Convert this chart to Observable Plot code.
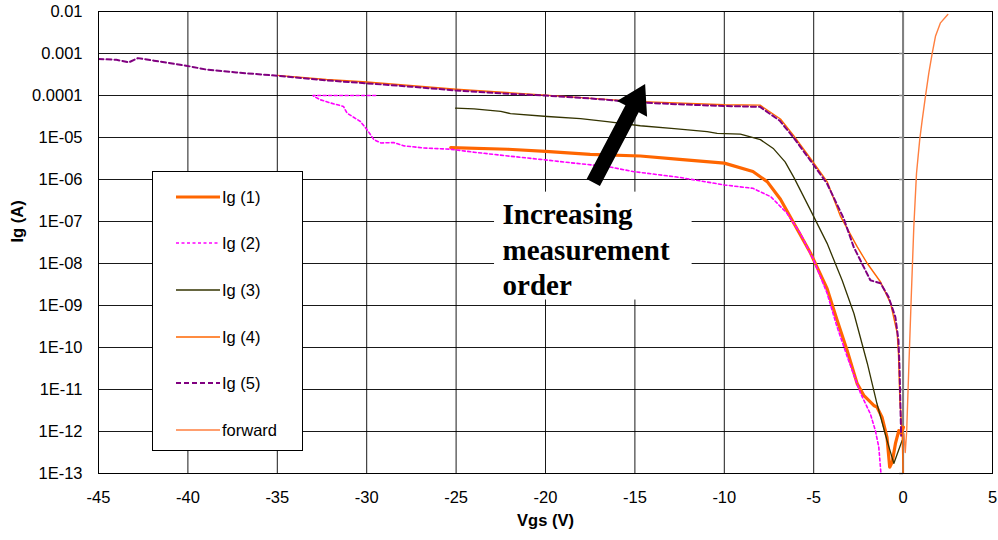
<!DOCTYPE html>
<html><head><meta charset="utf-8">
<script src="https://cdn.jsdelivr.net/npm/d3@7"></script>
<script src="https://cdn.jsdelivr.net/npm/@observablehq/plot@0.6"></script>
<style>
body{margin:0;background:#fff;}
#wrap{position:relative;width:998px;height:540px;font-family:Arial,"Liberation Sans",sans-serif;}
#legend{position:absolute;left:152px;top:171px;width:151px;height:280px;border:1px solid #000;background:#fff;box-sizing:border-box;}
.row{position:absolute;left:0;height:20px;width:150px;}
.row svg{position:absolute;left:22px;top:0;}
.row span{position:absolute;left:69px;top:0;font-size:16.5px;color:#000;line-height:20px;white-space:nowrap;}
</style></head><body><div id="wrap"></div>
<script>
// ---- data (Vgs in V, gate current as log10(A)) ----
const seriesNames = ["Ig (1)", "Ig (2)", "Ig (3)", "Ig (4)", "Ig (5)", "forward"];

const ig1V   = [-25.3,-22.1,-20,-17.5,-14.7,-12.5,-10,-8.4,-7.6,-6.86,-6.11,-5.18,-4.25,-3.69,-3.13,-2.57,-2.2,-1.64,-1.46,-1.18,-0.9,-0.75,-0.61,-0.43,-0.24,-0.11,0.02];
const ig1Log = [-5.24,-5.28,-5.33,-5.40,-5.44,-5.52,-5.61,-5.81,-6.05,-6.47,-7.04,-7.75,-8.6,-9.35,-10.07,-10.86,-11.14,-11.38,-11.42,-11.66,-12.14,-12.85,-12.73,-12.29,-11.98,-12.05,-11.9];

const ig2V   = [-29.5,-33,-32.96,-32.6,-32.0,-31.3,-31.1,-30.35,-29.97,-29.6,-29.2,-28.5,-27.9,-26.8,-25.3,-24.0,-22.1,-20.3,-18.4,-16.55,-15.1,-12.5,-10,-8.4,-7.4,-6.5,-5.75,-5.0,-4.25,-3.7,-3.1,-2.38,-1.83,-1.55,-1.36,-1.2];
const ig2Log = [-4.0,-4.0,-4.02,-4.1,-4.18,-4.26,-4.42,-4.62,-4.82,-5.05,-5.13,-5.12,-5.2,-5.25,-5.28,-5.35,-5.44,-5.52,-5.61,-5.69,-5.81,-5.95,-6.13,-6.21,-6.41,-6.8,-7.28,-7.92,-8.71,-9.5,-10.25,-11.09,-11.58,-11.98,-12.37,-13.2];

const ig3V   = [-25.03,-24.0,-22.5,-21.96,-19.9,-18.04,-16.55,-14.7,-12.8,-10.96,-10.4,-9.1,-7.98,-7.24,-6.6,-6.11,-5.18,-4.25,-3.41,-2.75,-2.0,-1.46,-0.9,-0.52,-0.05];
const ig3Log = [-4.30,-4.32,-4.38,-4.43,-4.5,-4.55,-4.62,-4.72,-4.79,-4.86,-4.9,-4.92,-5.05,-5.27,-5.58,-5.95,-6.73,-7.52,-8.40,-9.19,-10.38,-11.34,-12.21,-12.76,-12.21];

const ig4V   = [-35,-32.25,-30,-25,-20,-15,-10,-8,-6.86,-6.13,-5.18,-4.25,-3.5,-2.57,-2.0,-1.26,-0.7,-0.33,-0.26,-0.18,-0.05,0];
const ig4Log = [-3.52,-3.62,-3.68,-3.85,-3.99,-4.14,-4.22,-4.23,-4.56,-4.95,-5.5,-6.05,-6.88,-7.6,-8.0,-8.44,-8.95,-9.66,-10.14,-11.26,-12.05,-13];

const ig5V   = [-45,-44,-43.3,-42.8,-41.9,-40.1,-39,-37.3,-35,-32.25,-30,-27.5,-25,-22.5,-20,-17.5,-15,-12.5,-10,-8,-6.9,-6.13,-5.18,-4.25,-3.33,-2.77,-1.83,-1.26,-0.81,-0.43,-0.26,-0.2,-0.11];
const ig5Log = [-3.13,-3.15,-3.21,-3.11,-3.17,-3.29,-3.38,-3.45,-3.53,-3.64,-3.71,-3.79,-3.88,-3.95,-4.0,-4.07,-4.16,-4.21,-4.25,-4.27,-4.6,-5.0,-5.55,-6.1,-6.92,-7.6,-8.4,-8.47,-8.8,-9.28,-9.83,-10.47,-12.1];

const fwdV   = [0.05,0.12,0.2,0.32,0.45,0.6,0.75,0.93,1.07,1.25,1.44,1.63,1.81,2.09,2.5];
const fwdLog = [-12.05,-12.5,-12.0,-10.47,-8.87,-7.12,-5.85,-5.05,-4.58,-4.02,-3.46,-2.99,-2.59,-2.27,-2.07];

const xTicks = [-45,-40,-35,-30,-25,-20,-15,-10,-5,0,5];
const yTicks = [1e-2,1e-3,1e-4,1e-5,1e-6,1e-7,1e-8,1e-9,1e-10,1e-11,1e-12,1e-13];
const yTickLabels = ["0.01","0.001","0.0001","1E-05","1E-06","1E-07","1E-08","1E-09","1E-10","1E-11","1E-12","1E-13"];

const annotationText = "Increasing\nmeasurement\norder";

// ---- build ----
const toRows = (vs, logs, name) => vs.map((v, i) => ({v, ig: Math.pow(10, logs[i]), name}));
const s1 = toRows(ig1V, ig1Log, seriesNames[0]);
const s2 = toRows(ig2V, ig2Log, seriesNames[1]);
const s3 = toRows(ig3V, ig3Log, seriesNames[2]);
const s4 = toRows(ig4V, ig4Log, seriesNames[3]);
const s5 = toRows(ig5V, ig5Log, seriesNames[4]);
const s6 = toRows(fwdV, fwdLog, seriesNames[5]);

const styles = [
  {stroke: "#ff6600", strokeWidth: 3.2},
  {stroke: "#ff00ff", strokeWidth: 1.6, strokeDasharray: "3,2.5"},
  {stroke: "#333300", strokeWidth: 1.3},
  {stroke: "#ff6600", strokeWidth: 1.4},
  {stroke: "#800080", strokeWidth: 2, strokeDasharray: "5,3"},
  {stroke: "#ff7f3f", strokeWidth: 1.4}
];
const series = [s1, s2, s3, s4, s5, s6];
const labelMap = new Map(yTicks.map((t, i) => [t, yTickLabels[i]]));

const font = "Arial, 'Liberation Sans', sans-serif";
const chart = Plot.plot({
  width: 998, height: 540,
  marginLeft: 98, marginRight: 6, marginTop: 11, marginBottom: 67,
  style: {fontFamily: font, fontSize: "16.5px", background: "#fff", color: "#000"},
  x: {domain: [-45, 5], ticks: xTicks, tickSize: 0, tickPadding: 18, label: null, tickFormat: d => String(d)},
  y: {type: "log", domain: [1e-13, 1e-2], ticks: yTicks, tickSize: 0, tickPadding: 16, label: null, tickFormat: d => labelMap.get(d)},
  marks: [
    Plot.gridX(xTicks, {stroke: "#000", strokeOpacity: 0.9, strokeWidth: 1}),
    Plot.gridY(yTicks, {stroke: "#000", strokeOpacity: 0.9, strokeWidth: 1}),
    Plot.rect([{x1: -22.85, x2: -11.8, y1: 1.35e-9, y2: 5.0e-7}], {x1: "x1", x2: "x2", y1: "y1", y2: "y2", fill: "#fff"}),
    Plot.ruleX([0], {stroke: "#808080", strokeWidth: 2}),
    Plot.link(yTicks, {x1: -0.22, x2: 0, y1: d => d, y2: d => d, stroke: "#808080", strokeWidth: 1.5}),
    ...series.map((s, i) => Plot.line(s, {x: "v", y: "ig", clip: true, ...styles[i]})),
    Plot.frame({stroke: "#000", strokeWidth: 1}),
    Plot.text([annotationText], {x: -22.4, y: 2.3e-8, text: d => d, textAnchor: "start", lineAnchor: "middle", lineHeight: 1.21, fontSize: 29, fontWeight: "bold", fontFamily: "'Liberation Serif', 'Times New Roman', serif", fill: "#000"}),
    Plot.text(["Vgs (V)"], {frameAnchor: "bottom", dy: 52, text: d => d, fontWeight: "bold", fontSize: 16.5}),
    Plot.text(["Ig (A)"], {frameAnchor: "left", dx: -81, rotate: -90, text: d => d, fontWeight: "bold", fontSize: 16.5})
  ]
});

// arrow (filled) positioned through the chart's scales
const sx = chart.scale("x"), sy = chart.scale("y");
const arrowFrom = {v: -17.3, ig: 8.3e-7}, arrowTo = {v: -14.4, ig: 1.82e-4};
const ax = sx.apply(arrowFrom.v), ay = sy.apply(arrowFrom.ig);
const bx = sx.apply(arrowTo.v), by = sy.apply(arrowTo.ig);
const L = Math.hypot(bx - ax, by - ay), ux = (bx - ax) / L, uy = (by - ay) / L, nx = -uy, ny = ux;
const headLen = 28, headHalf = 17, shaftHalf = 7.5;
const hx = bx - ux * headLen, hy = by - uy * headLen;
const pts = [
  [ax + nx * shaftHalf, ay + ny * shaftHalf], [hx + nx * shaftHalf, hy + ny * shaftHalf],
  [hx + nx * headHalf, hy + ny * headHalf], [bx, by],
  [hx - nx * headHalf, hy - ny * headHalf], [hx - nx * shaftHalf, hy - ny * shaftHalf],
  [ax - nx * shaftHalf, ay - ny * shaftHalf]
];
const path = document.createElementNS("http://www.w3.org/2000/svg", "path");
path.setAttribute("d", "M" + pts.map(p => p.join(",")).join("L") + "Z");
path.setAttribute("fill", "#000");
chart.appendChild(path);

const wrap = document.getElementById("wrap");
wrap.appendChild(chart);

// legend
const legend = document.createElement("div");
legend.id = "legend";
const rowTops = [24.7, 71.3, 118, 164.7, 211.3, 258.3];
seriesNames.forEach((name, i) => {
  const row = document.createElement("div");
  row.className = "row";
  row.style.top = (rowTops[i] - 10) + "px";
  const st = styles[i];
  row.innerHTML = `<svg width="46" height="20"><line x1="1" x2="45" y1="10" y2="10" stroke="${st.stroke}" stroke-width="${st.strokeWidth}" ${st.strokeDasharray ? `stroke-dasharray="${st.strokeDasharray}"` : ""}/></svg><span>${name}</span>`;
  legend.appendChild(row);
});
wrap.appendChild(legend);
</script>
</body></html>
